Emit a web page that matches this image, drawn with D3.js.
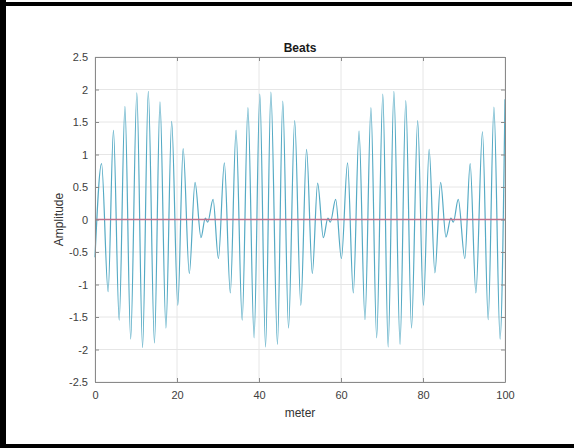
<!DOCTYPE html>
<html>
<head>
<meta charset="utf-8">
<script src="https://cdn.jsdelivr.net/npm/d3@7"></script>
<style>
  html, body { margin: 0; padding: 0; background: #fff; }
  svg { display: block; font-family: "Liberation Sans", Arial, sans-serif; }
</style>
</head>
<body>
<div id="chart"></div>
<script>
// extrema of the beat signal (meter, amplitude)
const meter = [
  0, 1.6, 3.2, 4.5, 5.9, 7.3, 8.7, 10.2, 11.6, 13.0, 14.5, 15.85, 17.3, 18.7, 20.2, 21.5, 23.0, 24.4, 25.85, 26.9, 27.5,
  28.8, 30.1, 31.55, 33.0, 34.4, 35.9, 37.3, 38.8, 40.2, 41.6, 42.9, 44.5, 45.8, 47.2, 48.7, 50.2, 51.6, 53.0, 54.3, 55.7, 56.8, 57.4,
  58.7, 60.1, 61.6, 63.0, 64.4, 65.85, 67.3, 68.7, 70.2, 71.5, 72.9, 74.4, 75.8, 77.2, 78.7, 80.1, 81.5, 82.9, 84.3, 85.6, 86.8, 87.4,
  88.6, 90.2, 91.5, 92.9, 94.5, 95.9, 97.3, 98.8, 100
];
const amplitude = [
  -0.58, 0.86, -1.11, 1.37, -1.55, 1.74, -1.84, 1.95, -1.97, 1.97, -1.90, 1.81, -1.67, 1.51, -1.32, 1.09, -0.83, 0.57, -0.28, 0.02, -0.04,
  0.31, -0.60, 0.87, -1.13, 1.37, -1.55, 1.72, -1.82, 1.93, -1.96, 1.96, -1.92, 1.82, -1.67, 1.52, -1.32, 1.08, -0.83, 0.56, -0.28, 0.02, -0.04,
  0.31, -0.60, 0.87, -1.13, 1.36, -1.54, 1.72, -1.82, 1.93, -1.96, 1.97, -1.92, 1.83, -1.67, 1.52, -1.32, 1.08, -0.82, 0.57, -0.27, 0.02, -0.04,
  0.31, -0.60, 0.86, -1.13, 1.35, -1.54, 1.73, -1.84, 1.85
];
const zeroLine = [0, 0];
const xTicks = [0, 20, 40, 60, 80, 100];
const yTicks = [-2.5, -2, -1.5, -1, -0.5, 0, 0.5, 1, 1.5, 2, 2.5];

const W = 574, H = 448;
const m = {t: 57, l: 95, b: 66, r: 69};
const w = W - m.l - m.r;
const h = H - m.t - m.b;

const scaleX = d3.scaleLinear().domain([0, 100]).range([0, w]);
const scaleY = d3.scaleLinear().domain([-2.5, 2.5]).range([h, 0]);

const svg = d3.select("#chart").append("svg")
  .attr("width", W)
  .attr("height", H);

// black frame of the screenshot
svg.append("rect").attr("x", 0).attr("y", 0).attr("width", 6).attr("height", H).attr("fill", "#000");
svg.append("rect").attr("x", 0).attr("y", 2).attr("width", 572).attr("height", 4).attr("fill", "#000");
svg.append("rect").attr("x", 0).attr("y", 444).attr("width", W).attr("height", 4).attr("fill", "#000");

const plot = svg.append("g")
  .attr("class", "plot")
  .attr("transform", `translate(${m.l},${m.t})`);

// grid
plot.append("g").attr("class", "grid")
  .selectAll("line").data(xTicks).join("line")
  .attr("x1", d => scaleX(d)).attr("x2", d => scaleX(d))
  .attr("y1", 0).attr("y2", h)
  .attr("stroke", "#e6e6e6").attr("stroke-width", 1);
plot.append("g").attr("class", "grid")
  .selectAll("line").data(yTicks).join("line")
  .attr("x1", 0).attr("x2", w)
  .attr("y1", d => scaleY(d)).attr("y2", d => scaleY(d))
  .attr("stroke", "#e6e6e6").attr("stroke-width", 1);

const lineGenerator = d3.line()
  .x(d => scaleX(d[0]))
  .y(d => scaleY(d[1]))
  .curve(d3.curveMonotoneX);

plot.append("path")
  .datum(d3.zip(meter, amplitude))
  .attr("class", "line")
  .attr("d", lineGenerator)
  .style("fill", "none")
  .style("stroke", "#55aac4")
  .style("stroke-width", "1.2px");

plot.append("path")
  .datum(d3.zip([0, 100], zeroLine))
  .attr("class", "zero")
  .attr("d", d3.line().x(d => scaleX(d[0])).y(d => scaleY(d[1])))
  .style("fill", "none")
  .style("stroke", "#c0708a")
  .style("stroke-width", "1.3px");

// axes (MATLAB style, ticks inward, box on)
const fmt = d => String(d);
const axisX = d3.axisBottom(scaleX).tickValues(xTicks).tickSizeInner(-4).tickSizeOuter(0).tickPadding(9).tickFormat(fmt);
const axisY = d3.axisLeft(scaleY).tickValues(yTicks).tickSizeInner(-4).tickSizeOuter(0).tickPadding(7).tickFormat(fmt);
const axisTop = d3.axisTop(scaleX).tickValues(xTicks).tickSizeInner(-4).tickSizeOuter(0).tickFormat("");
const axisRight = d3.axisRight(scaleY).tickValues(yTicks).tickSizeInner(-4).tickSizeOuter(0).tickFormat("");

const gx = plot.append("g").attr("class", "axis axis-x").attr("transform", `translate(0,${h})`).call(axisX);
const gy = plot.append("g").attr("class", "axis axis-y").call(axisY);
const gt = plot.append("g").attr("class", "axis axis-top").call(axisTop);
const gr = plot.append("g").attr("class", "axis axis-right").attr("transform", `translate(${w},0)`).call(axisRight);

[gx, gy, gt, gr].forEach(g => {
  g.select(".domain").attr("stroke", "#8a8a8a");
  g.selectAll(".tick line").attr("stroke", "#8a8a8a");
  g.selectAll(".tick text").attr("fill", "#404040").style("font-size", "11px");
});

svg.append("text")
  .attr("x", m.l + w / 2).attr("y", 52)
  .attr("text-anchor", "middle")
  .style("font-size", "12px").style("font-weight", "bold")
  .attr("fill", "#1a1a1a")
  .text("Beats");

svg.append("text")
  .attr("x", m.l + w / 2).attr("y", 417)
  .attr("text-anchor", "middle")
  .style("font-size", "12px")
  .attr("fill", "#333")
  .text("meter");

svg.append("text")
  .attr("transform", `translate(63,${m.t + h / 2}) rotate(-90)`)
  .attr("text-anchor", "middle")
  .style("font-size", "12px")
  .attr("fill", "#333")
  .text("Amplitude");
</script>
</body>
</html>
